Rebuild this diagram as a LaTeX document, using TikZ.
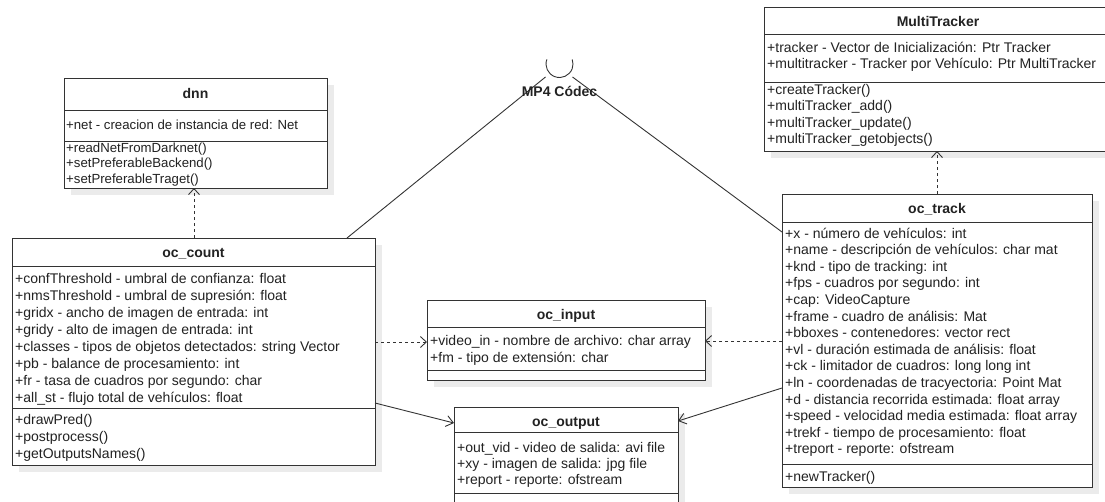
\documentclass[tikz,border=0pt]{standalone}
\usepackage{fontspec}
\setmainfont{Liberation Sans}
\usetikzlibrary{arrows.meta,shadows}
\definecolor{ln}{HTML}{333333}
\definecolor{txt}{HTML}{222222}
\definecolor{shd}{HTML}{EBEBEB}

% one member line per entry, baseline spacing #4
\newcommand\members[5]{%
  \foreach \t [count=\i from 0] in {#5}
    \node[mem] (#1-\i) at (#2,{#3+\i*#4}) {\t};}

\begin{document}
\begin{tikzpicture}[x=1pt,y=-1pt,
  box/.style={draw=ln, line width=1pt, fill=white, inner sep=0pt, outer sep=0pt,
    anchor=north west,
    general shadow={fill=shd, shadow xshift=7pt, shadow yshift=-7pt}},
  sepline/.style={draw=ln, line width=1pt},
  mem/.style={anchor=base west, inner sep=0pt, text=txt, font=\fontsize{14}{16}\selectfont},
  small/.style={mem/.append style={font=\fontsize{13.2}{16}\selectfont}},
  ttl/.style={anchor=base, inner sep=0pt, text=txt, font=\fontsize{14}{16}\selectfont\bfseries},
  conn/.style={draw=ln, line width=0.9pt},
  dep/.style={conn, dash pattern=on 3pt off 3pt, -{Straight Barb[length=6pt,width=11pt]}},
  assoc/.style={conn, -{Straight Barb[length=7pt,width=11pt]}}]
\useasboundingbox (0,0) rectangle (1105,501);
\clip (0,0) rectangle (1105,501);

% ---------- class boxes ----------
\node[box, minimum width=348pt, minimum height=144pt] (mt) at (764,7) {};
\node[box, minimum width=263pt, minimum height=110pt] (dnn) at (64,78) {};
\node[box, minimum width=363pt, minimum height=227pt] (count) at (12,238) {};
\node[box, minimum width=278pt, minimum height=80pt] (input) at (427,300) {};
\node[box, minimum width=224pt, minimum height=120pt] (output) at (454,407) {};
\node[box, minimum width=310pt, minimum height=293pt] (track) at (782,194) {};

% compartment separators
\foreach \b/\ya/\yb in {mt/34/82, dnn/110/141, count/266/408, input/327/370,
                        output/432/493, track/222/464}{
  \draw[sepline] (\b.west |- 0,\ya) -- (\b.east |- 0,\ya);
  \draw[sepline] (\b.west |- 0,\yb) -- (\b.east |- 0,\yb);
}

% ---------- MultiTracker ----------
\node[ttl] (mt-t) at (938,26) {MultiTracker};
\members{mta}{767}{52}{16.6}{{+tracker - Vector de Inicialización: Ptr Tracker},
  {+multitracker - Tracker por Vehículo: Ptr MultiTracker}}
\members{mtm}{767}{94}{16.6}{{+createTracker()},{+multiTracker\_add()},
  {+multiTracker\_update()},{+multiTracker\_getobjects()}}

% ---------- dnn ----------
\begin{scope}[small]
\node[ttl] (dnn-t) at (195.5,98) {dnn};
\members{dnna}{66}{129}{16}{{+net - creacion de instancia de red: Net}}
\members{dnnm}{66}{152}{15.5}{{+readNetFromDarknet()},{+setPreferableBackend()},
  {+setPreferableTraget()}}
\end{scope}

% ---------- oc_count ----------
\node[ttl] (count-t) at (193.5,257) {oc\_count};
\members{counta}{15}{283}{17}{{+confThreshold - umbral de confianza: float},
  {+nmsThreshold - umbral de supresión: float},
  {+gridx - ancho de imagen de entrada: int},
  {+gridy - alto de imagen de entrada: int},
  {+classes - tipos de objetos detectados: string Vector},
  {+pb - balance de procesamiento: int},
  {+fr - tasa de cuadros por segundo: char},
  {+all\_st - flujo total de vehículos: float}}
\members{countm}{15}{424}{17}{{+drawPred()},{+postprocess()},{+getOutputsNames()}}

% ---------- oc_input ----------
\node[ttl] (input-t) at (566,319) {oc\_input};
\members{inputa}{430}{345}{17}{{+video\_in - nombre de archivo: char array},
  {+fm - tipo de extensión: char}}

% ---------- oc_output ----------
\node[ttl] (output-t) at (566,426) {oc\_output};
\members{outputa}{457}{452}{16}{{+out\_vid - video de salida: avi file},
  {+xy - imagen de salida: jpg file},{+report - reporte: ofstream}}

% ---------- oc_track ----------
\node[ttl] (track-t) at (937,213) {oc\_track};
\members{tracka}{785}{238}{16.6}{{+x - número de vehículos: int},
  {+name - descripción de vehículos: char mat},
  {+knd - tipo de tracking: int},
  {+fps - cuadros por segundo: int},
  {+cap: VideoCapture},
  {+frame - cuadro de análisis: Mat},
  {+bboxes - contenedores: vector rect},
  {+vl - duración estimada de análisis: float},
  {+ck - limitador de cuadros: long long int},
  {+ln - coordenadas de tracyectoria: Point Mat},
  {+d - distancia recorrida estimada: float array},
  {+speed - velocidad media estimada: float array},
  {+trekf - tiempo de procesamiento: float},
  {+treport - reporte: ofstream}}
\members{trackm}{785}{481}{16.6}{{+newTracker()}}

% ---------- required interface: MP4 Códec ----------
\coordinate (sock) at (559.5,64);
\draw[conn] (sock) ++(160:13.5pt) arc[start angle=160, end angle=380, radius=13.5pt];
\coordinate (sockL) at (545.5,77);
\coordinate (sockR) at (572.5,77);
\draw[conn] (sockL) -- (347,0 |- count.north);
\draw[conn] (sockR) -- (track.west |- 0,232);
\node[ttl] (codec) at (559.5,96.5) {MP4 Códec};

% ---------- relations ----------
\draw[dep] (count.north -| 194,0) -- (dnn.south -| 194,0);
\draw[dep] (track.north -| 937,0) -- (mt.south -| 937,0);
\draw[dep] (count.east |- 0,342) -- (input.west |- 0,342);
\draw[dep] (track.west |- 0,341) -- (input.east |- 0,341);
\draw[assoc] (count.east |- 0,403) -- (output.west |- 0,423);
\draw[assoc] (track.west |- 0,388) -- (output.east |- 0,421);
\end{tikzpicture}
\end{document}
